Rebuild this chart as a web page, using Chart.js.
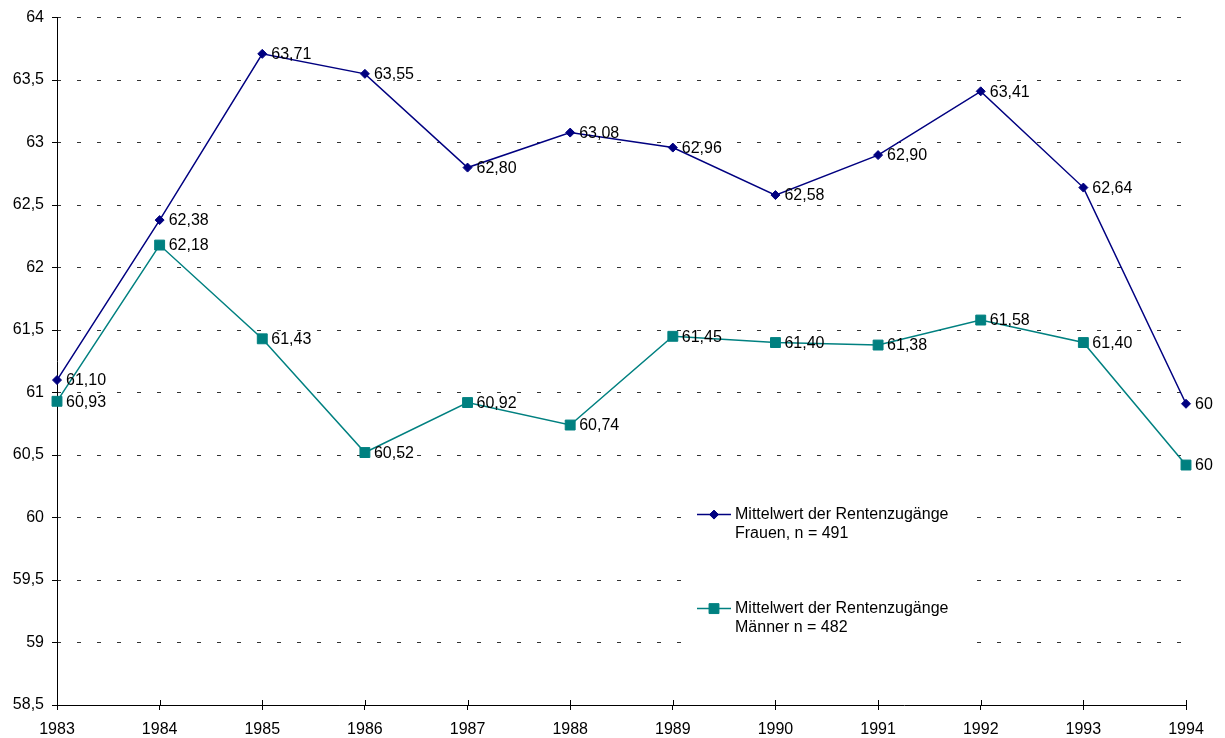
<!DOCTYPE html>
<html>
<head>
<meta charset="utf-8">
<script src="https://cdn.jsdelivr.net/npm/chart.js@4/dist/chart.umd.min.js"></script>
<style>
  html, body { margin: 0; padding: 0; background: #fff; }
  #wrap { width: 1225px; height: 738px; }
</style>
</head>
<body>
<div id="wrap"><canvas id="chart"></canvas></div>
<script>
const years = ["1983", "1984", "1985", "1986", "1987", "1988", "1989", "1990", "1991", "1992", "1993", "1994"];
const frauen = [61.10, 62.38, 63.71, 63.55, 62.80, 63.08, 62.96, 62.58, 62.90, 63.41, 62.64, 60.91];
const maenner = [60.93, 62.18, 61.43, 60.52, 60.92, 60.74, 61.45, 61.40, 61.38, 61.58, 61.40, 60.42];
const frauenLabel = ["Mittelwert der Rentenzugänge", "Frauen, n = 491"];
const maennerLabel = ["Mittelwert der Rentenzugänge", "Männer n = 482"];

const FONT = "'Liberation Sans', Arial, sans-serif";
const fmt = (v) => v.toFixed(2).replace(".", ",");

// value labels to the right of each point (clipped at the right edge like the original)
const valueLabels = {
    id: "valueLabels",
    afterDatasetsDraw(chart) {
        const ctx = chart.ctx;
        ctx.save();
        ctx.beginPath();
        ctx.rect(0, 0, 1213, chart.height);
        ctx.clip();
        ctx.font = "16px " + FONT;
        ctx.fillStyle = "#000";
        ctx.textAlign = "left";
        ctx.textBaseline = "middle";
        chart.data.datasets.forEach((ds, i) => {
            chart.getDatasetMeta(i).data.forEach((pt, j) => {
                ctx.fillText(fmt(ds.data[j]), pt.x + 9, pt.y + 1);
            });
        });
        ctx.restore();
    }
};

// legend in a white box inside the plot area
const innerLegend = {
    id: "innerLegend",
    afterDraw(chart) {
        const ctx = chart.ctx;
        const area = chart.chartArea;
        const boxLeft = area.left + 630;
        const boxTop = area.top + 482;
        const left = area.left + 640;
        const rows = [area.top + 497, area.top + 591];
        ctx.save();
        ctx.fillStyle = "#fff";
        ctx.fillRect(boxLeft, boxTop, 284, 152);
        ctx.font = "16px " + FONT;
        ctx.textBaseline = "middle";
        chart.data.datasets.forEach((ds, i) => {
            const cy = rows[i];
            ctx.strokeStyle = ds.borderColor;
            ctx.fillStyle = ds.backgroundColor;
            ctx.lineWidth = ds.borderWidth;
            ctx.beginPath();
            ctx.moveTo(left, cy);
            ctx.lineTo(left + 34, cy);
            ctx.stroke();
            ctx.lineWidth = 1;
            Chart.helpers.drawPoint(ctx, {
                pointStyle: ds.pointStyle,
                radius: ds.pointRadius,
                borderWidth: 1
            }, left + 17, cy);
            ctx.fillStyle = "#000";
            ds.label.forEach((line, k) => {
                ctx.fillText(line, left + 38, cy + k * 19);
            });
        });
        ctx.restore();
    }
};

// x ticks also reach a little above the axis
const innerTicks = {
    id: "innerTicks",
    afterDraw(chart) {
        const ctx = chart.ctx;
        const x = chart.scales.x;
        const bottom = chart.chartArea.bottom;
        ctx.save();
        ctx.strokeStyle = "#000";
        ctx.lineWidth = 1;
        years.forEach((_, i) => {
            const px = Math.round(x.getPixelForValue(i)) + 0.5;
            ctx.beginPath();
            ctx.moveTo(px, bottom - 5);
            ctx.lineTo(px, bottom);
            ctx.stroke();
        });
        ctx.restore();
    }
};

new Chart(document.getElementById("chart"), {
    type: "line",
    data: {
        labels: years,
        datasets: [
            {
                label: frauenLabel,
                data: frauen,
                borderColor: "#000080",
                backgroundColor: "#000080",
                borderWidth: 1.5,
                pointStyle: "rectRot",
                pointRadius: 4.5,
                pointHoverRadius: 4.5,
                pointBorderWidth: 1,
                tension: 0,
                fill: false
            },
            {
                label: maennerLabel,
                data: maenner,
                borderColor: "#008080",
                backgroundColor: "#008080",
                borderWidth: 1.5,
                pointStyle: "rect",
                pointRadius: 7,
                pointHoverRadius: 7,
                pointBorderWidth: 1,
                tension: 0,
                fill: false
            }
        ]
    },
    options: {
        responsive: true,
        maintainAspectRatio: false,
        animation: false,
        events: [],
        clip: false,
        layout: { padding: { top: 16, right: 39, left: 0, bottom: 0 } },
        plugins: {
            legend: { display: false },
            tooltip: { enabled: false }
        },
        scales: {
            x: {
                offset: false,
                grid: {
                    display: true,
                    drawOnChartArea: false,
                    drawTicks: true,
                    tickLength: 5,
                    color: "#000"
                },
                border: { color: "#000", width: 1 },
                ticks: {
                    color: "#000",
                    font: { family: FONT, size: 16 },
                    padding: 10,
                    maxRotation: 0,
                    autoSkip: false
                },
                afterFit(scale) { scale.height = 33; }
            },
            y: {
                min: 58.5,
                max: 64,
                grid: {
                    color: "#333",
                    lineWidth: 1,
                    tickLength: 5,
                    tickColor: "#000",
                    tickBorderDash: []
                },
                border: { color: "#000", width: 1, dash: [4, 16], dashOffset: 1 },
                ticks: {
                    stepSize: 0.5,
                    color: "#000",
                    font: { family: FONT, size: 16 },
                    padding: 8,
                    callback: (v) => String(v).replace(".", ",")
                },
                afterFit(scale) { scale.width = 57; }
            }
        }
    },
    plugins: [valueLabels, innerLegend, innerTicks]
});
</script>
</body>
</html>
